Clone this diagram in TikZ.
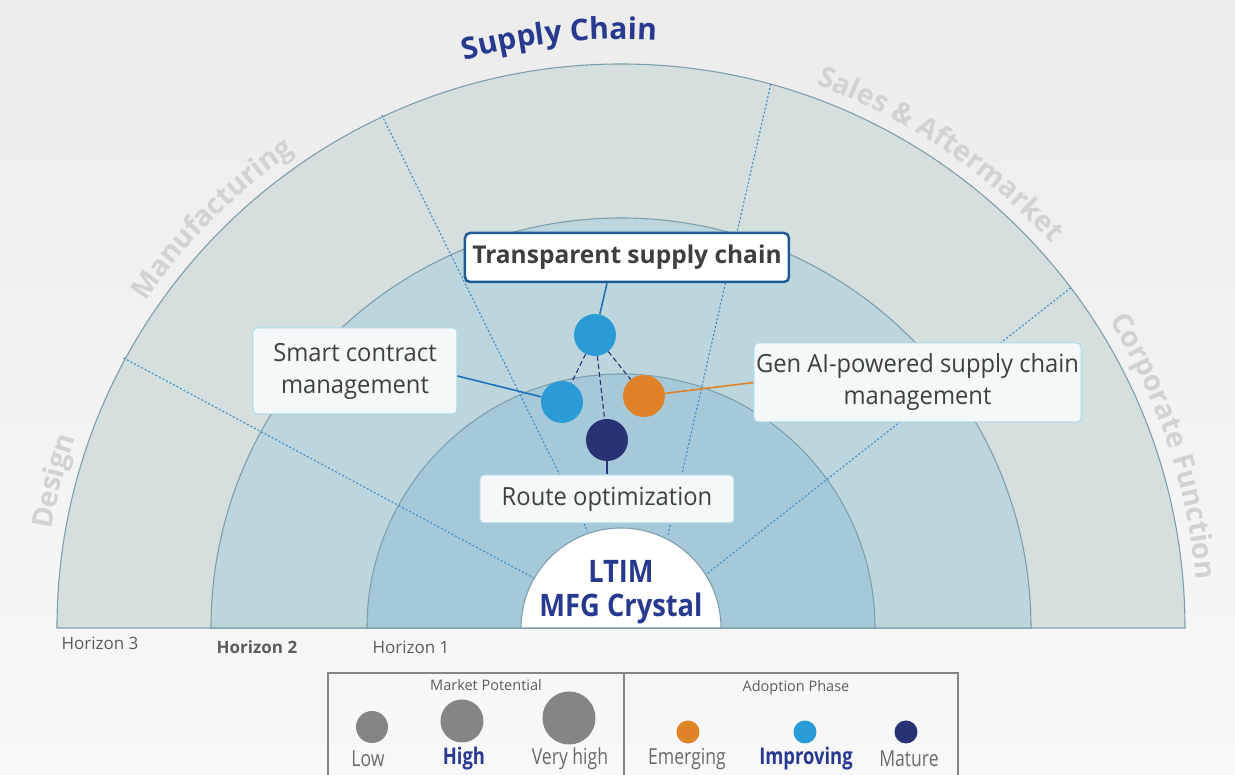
\documentclass[tikz,border=0pt]{standalone}
\usepackage{fontspec}
\setmainfont{Open Sans}
\newfontfamily\boxfont[FakeStretch=0.95]{Open Sans}
\newfontfamily\narrowfont[FakeStretch=0.88]{Open Sans}
\newfontfamily\condfont[FakeStretch=0.8]{Open Sans}
\usepackage{tikz}
\usetikzlibrary{decorations.text,positioning}

\definecolor{bgtop}{HTML}{ECECEC}
\definecolor{bgbot}{HTML}{F8F8F8}
\definecolor{hthree}{HTML}{D5DFDE}
\definecolor{htwo}{HTML}{BDD6DD}
\definecolor{hone}{HTML}{A6C9D9}
\definecolor{ringline}{HTML}{7D9FAB}
\definecolor{divblue}{HTML}{3C8DC9}
\definecolor{scnavy}{HTML}{283A8F}
\definecolor{sectgray}{HTML}{D2D2D2}
\definecolor{txtdark}{HTML}{3F3F3F}
\definecolor{boxedge}{HTML}{A9D8E8}
\definecolor{boxfill}{HTML}{F5F8F8}
\definecolor{tspedge}{HTML}{1D5A96}
\definecolor{linkblue}{HTML}{1F72BA}
\definecolor{improving}{HTML}{2A9BD4}
\definecolor{emerging}{HTML}{E08328}
\definecolor{mature}{HTML}{283275}
\definecolor{potgray}{HTML}{858585}
\definecolor{leggray}{HTML}{6B6B6B}

\begin{document}
\begin{tikzpicture}[x=1pt, y=1pt]
		\tikzstyle{Ring}	= [draw=ringline, line width=1.1pt]
		\tikzstyle{Divider}	= [divblue, line width=1.1pt, dash pattern=on 2pt off 2pt]
		\tikzstyle{Label}	= [draw=boxedge, fill=boxfill, rounded corners=4pt, line width=1pt, inner sep=0pt, align=center, text=txtdark, font=\boxfont\fontsize{25}{32}\selectfont]
		\tikzstyle{Focus}	= [draw=tspedge, fill=white, rounded corners=5pt, line width=2.5pt, inner sep=0pt, text=txtdark, font=\bfseries\fontsize{24.5}{30}\selectfont]
		\tikzstyle{Bubble}	= [circle, minimum size=42pt, inner sep=0pt]
		\tikzstyle{Dot}		= [circle, inner sep=0pt, fill=potgray]
		\tikzstyle{Link}	= [line width=1.6pt]
		\tikzstyle{Tie}		= [mature, line width=1.1pt, dash pattern=on 5pt off 3pt]
		\tikzstyle{Horizon}	= [text=txtdark!85, font=\fontsize{17}{20}\selectfont]
		\tikzstyle{LegTitle}	= [text=txtdark!85, font=\fontsize{14.5}{16}\selectfont]
		\tikzstyle{LegText}	= [text=leggray, font=\condfont\fontsize{22}{26}\selectfont]
		\tikzstyle{LegBold}	= [text=scnavy, font=\condfont\bfseries\fontsize{23}{26}\selectfont]

		\useasboundingbox (-621,-147) rectangle (614,628);
		\shade [top color=bgtop, bottom color=bgbot] (-621,-147) rectangle (614,628);

		% horizons, outside in
		\filldraw [Ring, fill=hthree] (180:564) arc[start angle=180, end angle=0, radius=564pt] -- cycle;
		\filldraw [Ring, fill=htwo] (180:410) arc[start angle=180, end angle=0, radius=410pt] -- cycle;
		\filldraw [Ring, fill=hone] (180:254) arc[start angle=180, end angle=0, radius=254pt] -- cycle;
		\filldraw [Ring, fill=white] (180:100) arc[start angle=180, end angle=0, radius=100pt] -- cycle;

		% sector dividers
		\draw [Divider] (151.5:566) -- (150.2:101);
		\draw [Divider] (115.0:566) -- (109.0:102);
		\draw [Divider] (74.6:564) -- (63.0:103);
		\draw [Divider] (37.1:564) -- (32.3:102);

		% sector names along the rim
		\path [decorate, decoration={text along path, text align=center, text={|\color{sectgray}\bfseries\fontsize{28.5}{34}\selectfont|Design}}]
			(186:578) arc[start angle=186, end angle=145, radius=578pt];
		\path [decorate, decoration={text along path, text align=center, text={|\color{sectgray}\bfseries\fontsize{28.5}{34}\selectfont|Manufacturing}}]
			(160:577) arc[start angle=160, end angle=110, radius=577pt];
		\path [decorate, decoration={text along path, text align=center, text={|\color{scnavy}\bfseries\fontsize{30}{36}\selectfont|Supply Chain}}]
			(120:589) arc[start angle=120, end angle=72, radius=589pt];
		\path [decorate, decoration={text along path, text align=center, text={|\color{sectgray}\bfseries\fontsize{28.5}{34}\selectfont|Sales {\&} Aftermarket}}]
			(81:577) arc[start angle=81, end angle=31, radius=577pt];
		\path [decorate, decoration={text along path, text align=center, text={|\color{sectgray}\bfseries\fontsize{28.5}{34}\selectfont|Corporate Function}}]
			(44:577) arc[start angle=44, end angle=-7, radius=577pt];

		% use cases
		\node (transp) at (6,370.5) [Focus, minimum width=324pt, minimum height=49pt] {Transparent supply chain};
		\node (smart) at (-266,257) [Label, minimum width=204pt, minimum height=86pt] {Smart contract\\management};
		\node (genai) at (296.5,245.5) [Label, minimum width=327pt, minimum height=79pt] {Gen AI-powered supply chain\\management};
		\node (route) at (-14,129) [Label, minimum width=254pt, minimum height=48pt] {Route optimization};

		\node (bT) at (-26,293) [Bubble, fill=improving] {};
		\node (bS) at (-59,226) [Bubble, fill=improving] {};
		\node (bG) at (23,232) [Bubble, fill=emerging] {};
		\node (bR) at (-14,188) [Bubble, fill=mature] {};

		\draw [-] (bT) to (bS) [Tie];
		\draw [-] (bT) to (bR) [Tie];
		\draw [-] (bT) to (bG) [Tie];
		\draw [-] (bT) to ([xshift=-20pt]transp.south) [Link, linkblue];
		\draw [-] (bS) to ([yshift=-5pt]smart.east) [Link, linkblue];
		\draw [-] (bG) to (genai.west) [Link, emerging];
		\draw [-] (bR) to (bR |- route.north) [Link, mature];

		\node (hub) at (0,36) [align=center, text=scnavy, font=\narrowfont\bfseries\fontsize{31}{34}\selectfont] {LTIM\\MFG Crystal};

		\node (h3) at (-521,-15) [Horizon] {Horizon 3};
		\node (h2) at (-364,-19) [Horizon, font=\bfseries\fontsize{17}{20}\selectfont] {Horizon 2};
		\node (h1) at (-210,-19) [Horizon] {Horizon 1};

		% legend
		\draw [potgray, line width=1.2pt] (-293,-160) -- (-293,-45) -- (337,-45) -- (337,-160);
		\draw [potgray, line width=1.2pt] (3,-45) -- (3,-160);
		\node (mp) at (-135,-57) [LegTitle] {Market Potential};
		\node (ap) at (175,-60) [LegTitle] {Adoption Phase};

		\node (low) at (-249,-99) [Dot, minimum size=32pt] {};
		\node (high) at (-159,-93) [Dot, minimum size=43pt] {};
		\node (vhigh) at (-52,-90) [Dot, minimum size=53pt] {};
		\node (lowT) at (-253,-131) [LegText] {Low};
		\node (highT) at (-157,-131) [LegBold] {High};
		\node (vhighT) at (-51,-131) [LegText] {Very high};

		\node (emg) at (67,-104) [Dot, fill=emerging, minimum size=23pt] {};
		\node (imp) at (184,-104) [Dot, fill=improving, minimum size=23pt] {};
		\node (mat) at (285,-104) [Dot, fill=mature, minimum size=23pt] {};
		\node (emgT) at (66,-131) [LegText] {Emerging};
		\node (impT) at (185,-131) [LegBold] {Improving};
		\node (matT) at (288,-131) [LegText] {Mature};
\end{tikzpicture}
\end{document}
